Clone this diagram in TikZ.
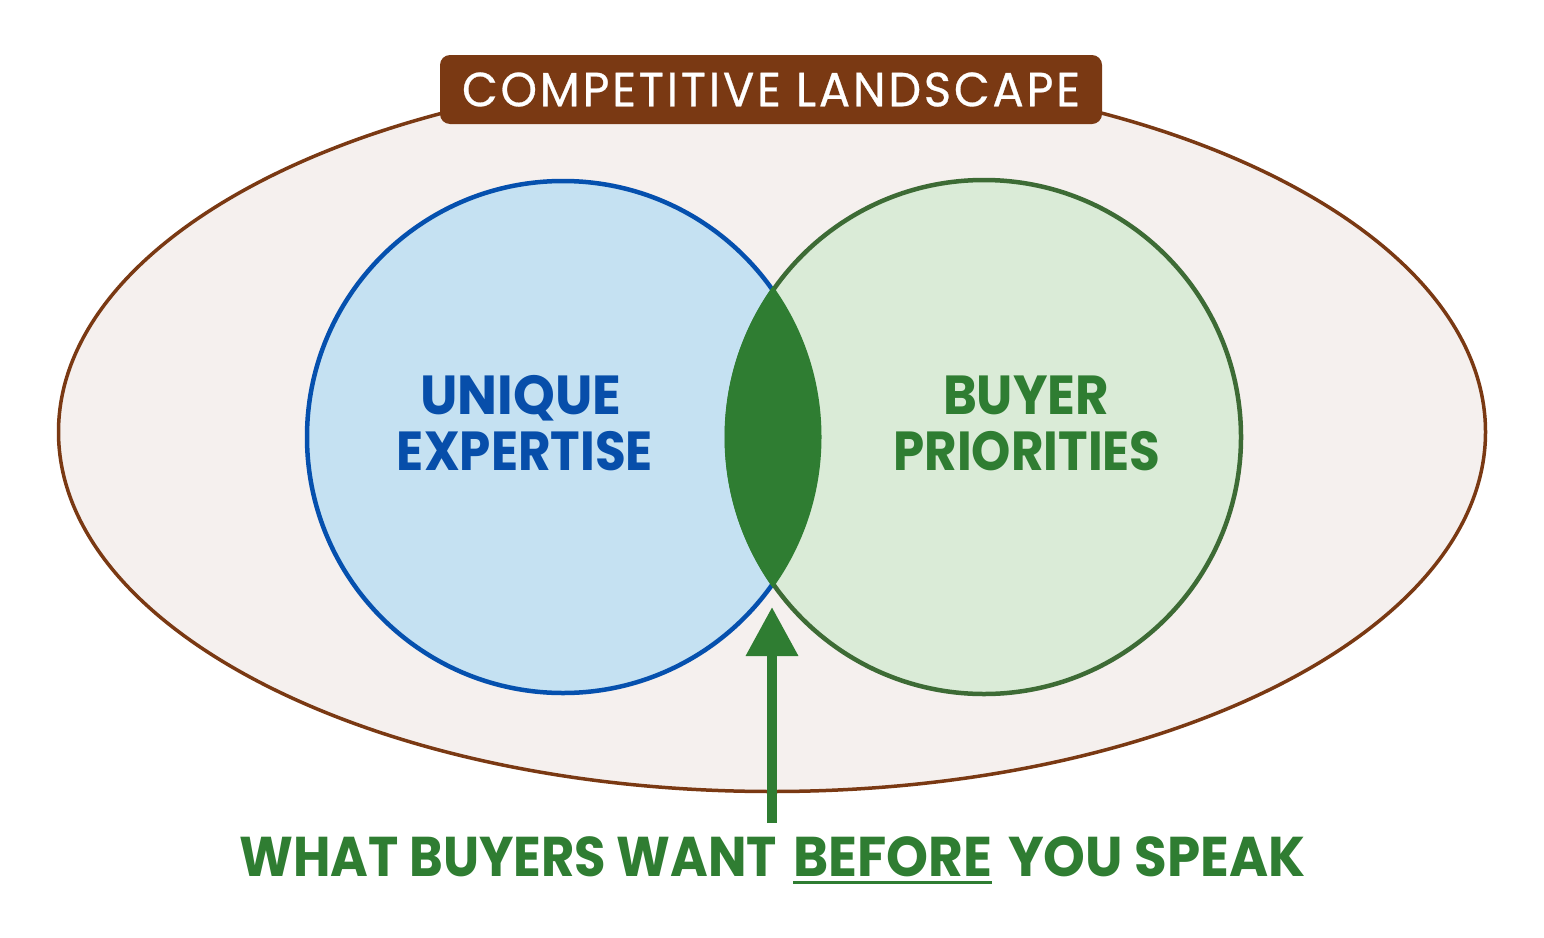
\documentclass[tikz,border=0pt]{standalone}
\usepackage{fontspec}
\usepackage{graphicx}
\setmainfont{Poppins}
\newfontfamily\titlefont{Poppins}[LetterSpace=6,FakeBold=0.6]
\usetikzlibrary{shapes.geometric,arrows.meta}
\newcommand\fitw[2]{\resizebox{#1}{\height}{#2}}
\definecolor{landfill}{HTML}{F5F0EE}
\definecolor{brown}{HTML}{7A3913}
\definecolor{bluefill}{HTML}{C5E1F2}
\definecolor{blueline}{HTML}{0550AE}
\definecolor{bluetext}{HTML}{074EAA}
\definecolor{greenfill}{HTML}{DAEBD7}
\definecolor{greenline}{HTML}{3D6B35}
\definecolor{greentext}{HTML}{2F7D32}
\tikzset{
  landscape/.style={ellipse, draw=brown, fill=landfill, line width=3.5pt, inner sep=0pt, minimum width=1427pt, minimum height=719pt},
  leftset/.style={circle, draw=blueline, fill=bluefill, line width=4.5pt, inner sep=0pt, minimum size=512pt},
  rightset/.style={circle, draw=greenline, fill=greenfill, line width=4.5pt, inner sep=0pt, minimum size=514pt},
  titlebox/.style={rectangle, rounded corners=10pt, fill=brown, text=white, inner sep=0pt, minimum width=662pt, minimum height=69pt},
  lbl/.style={inner sep=0pt, anchor=base},
  bluelbl/.style={lbl, text=bluetext, font=\fontsize{55}{55}\selectfont\bfseries},
  greenlbl/.style={lbl, text=greentext, font=\fontsize{55}{55}\selectfont\bfseries},
  bottomlbl/.style={inner sep=0pt, anchor=base west, text=greentext, font=\fontsize{56}{56}\selectfont\bfseries},
  pointer/.style={draw=greentext, line width=10pt, -{Triangle[width=50pt,length=49pt]}}
}
\begin{document}
\begin{tikzpicture}[x=1pt,y=-1pt]
\fill[white] (0,0) rectangle (1544,937);
\useasboundingbox (0,0) rectangle (1544,937);
% landscape
\node[landscape] (land) at (772,432) {};
% sets
\node[leftset] (expert) at (563,437) {};
\node[rightset] (buyer) at (984,437) {};
% overlap
\begin{scope}
  \clip (563,437) circle[radius=258.5pt];
  \fill[greentext] (984,437) circle[radius=259.5pt];
\end{scope}
% title
\node[titlebox] (title) at (771,89.5) {\fitw{618pt}{\titlefont\fontsize{48}{48}\selectfont COMPETITIVE LANDSCAPE}};
% circle labels
\node[bluelbl] (uniq1) at (521,414.5) {\fitw{201pt}{UNIQUE}};
\node[bluelbl] (uniq2) at (525,470) {\fitw{256pt}{EXPERTISE}};
\node[greenlbl] (buy1) at (1026,414.5) {\fitw{166pt}{BUYER}};
\node[greenlbl] (buy2) at (1027,470) {\fitw{267pt}{PRIORITIES}};
% arrow
\coordinate (arrowtail) at (772,823);
\coordinate (arrowtip) at (772,607);
\draw[pointer] (arrowtail) -- (arrowtip);
% bottom caption
\node[bottomlbl] (bw1) at (239,876) {\fitw{538pt}{WHAT BUYERS WANT}};
\node[bottomlbl] (bw2) at (793,876) {\fitw{199pt}{BEFORE}};
\node[bottomlbl] (bw3) at (1008,876) {\fitw{297pt}{YOU SPEAK}};
\draw[greentext, line width=3.5pt] ([yshift=-6.5pt]bw2.base west) -- ([yshift=-6.5pt]bw2.base east);
\end{tikzpicture}
\end{document}
